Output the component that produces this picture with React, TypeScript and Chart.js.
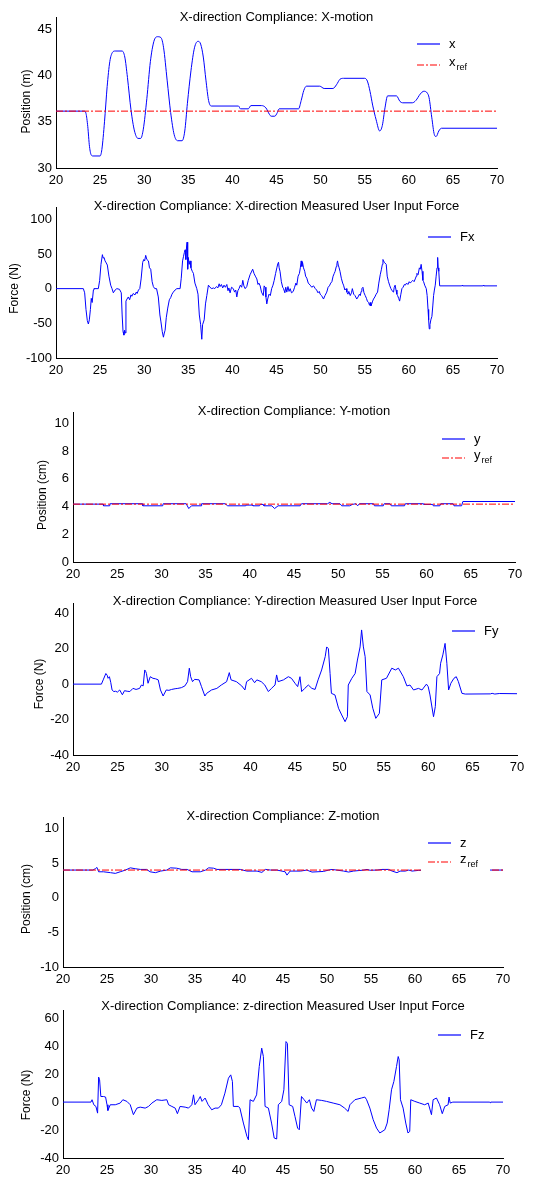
import React, { useEffect, useRef } from 'react';
import { Chart, registerables } from 'chart.js';

Chart.register(...registerables);

const FONT = '"Liberation Sans", Arial, Helvetica, sans-serif';
const BLUE = '#0000ff';
const RED = '#ff0000';
const REF_DASH = [7, 2, 2, 2];

const TIME_MIN = 20;
const TIME_MAX = 70;
const TIME_STEP = 5;

// ---- X-motion (m) ----
const X_MOTION: [number, number][] = [
  [20, 36.15], [23.2, 36.15], [23.4, 35.9], [23.6, 34.5], [23.8, 32.3], [24.0, 31.4], [24.2, 31.3], [25.0, 31.3],
  [25.2, 32.0], [25.5, 35.0], [25.8, 38.8], [26.1, 41.5], [26.4, 42.5], [26.7, 42.65], [27.5, 42.65], [27.8, 42.0],
  [28.1, 39.8], [28.5, 36.3], [28.9, 34.0], [29.3, 33.2], [29.6, 33.2], [29.9, 34.2], [30.3, 37.5], [30.7, 41.5],
  [31.1, 43.7], [31.5, 44.2], [31.9, 44.1], [32.2, 43.0], [32.6, 39.5], [33.0, 36.0], [33.4, 33.6], [33.8, 32.95],
  [34.3, 32.95], [34.6, 34.0], [34.9, 37.0], [35.3, 40.5], [35.7, 43.0], [36.1, 43.7], [36.4, 43.4], [36.7, 42.0],
  [37.0, 39.5], [37.3, 37.3], [37.6, 36.7], [40.7, 36.7], [40.9, 36.4], [41.8, 36.4], [42.1, 36.75], [43.3, 36.75],
  [43.8, 36.5], [44.2, 35.8], [44.4, 35.6], [44.8, 35.6], [45.1, 36.0], [45.3, 36.4], [47.5, 36.4], [47.8, 37.3],
  [48.1, 38.4], [48.4, 38.85], [49.9, 38.85], [50.4, 38.6], [51.4, 38.6], [51.8, 39.0], [52.2, 39.6], [52.6, 39.7],
  [55.0, 39.7], [55.3, 39.4], [55.6, 38.3], [55.9, 36.8], [56.3, 35.2], [56.7, 34.0], [57.0, 34.6], [57.3, 36.5],
  [57.6, 37.8], [58.6, 37.8], [59.0, 37.2], [59.3, 37.05], [60.4, 37.05], [60.8, 37.3], [61.3, 38.0], [61.7, 38.3],
  [62.1, 38.1], [62.3, 37.6], [62.6, 35.5], [62.9, 33.6], [63.1, 33.4], [63.4, 34.0], [63.7, 34.3], [70, 34.3],
];
const X_REF: [number, number][] = [[20, 36.15], [70, 36.15]];

// ---- Fx (N) ----
const FX: [number, number][] = [
  [20, 0], [23.1, 0], [23.25, -6], [23.4, -30], [23.55, -46], [23.67, -51], [23.78, -45], [23.9, -30], [24.0, -14],
  [24.1, -20], [24.24, -2], [24.3, 0], [24.8, 0], [24.95, 12], [25.1, 35], [25.26, 49], [25.35, 44], [25.45, 45],
  [25.56, 40], [25.7, 37], [25.82, 34], [26.0, 18], [26.2, 5], [26.35, 0], [26.5, -6], [26.7, -2], [26.9, 0],
  [27.2, -1], [27.4, -6], [27.5, -38], [27.6, -62], [27.7, -67], [27.78, -60], [27.86, -64], [27.93, -18],
  [28.05, -15], [28.2, -12], [28.35, -16], [28.5, -9], [28.6, -11], [28.75, -7], [28.96, -9], [29.1, -5],
  [29.2, -7], [29.35, -2], [29.5, 0], [29.65, 14], [29.83, 38], [29.95, 42], [30.05, 40], [30.17, 48], [30.3, 42],
  [30.48, 40], [30.6, 30], [30.74, 28], [30.9, 10], [31.04, 3], [31.2, 0], [31.4, 0], [31.6, -12], [31.78, -38],
  [31.9, -48], [32.05, -62], [32.18, -70], [32.28, -64], [32.37, -60], [32.5, -42], [32.67, -28], [32.85, -16],
  [33.0, -13], [33.15, -8], [33.3, -5], [33.5, -2], [33.7, 0], [34.07, 0], [34.2, 15], [34.35, 40], [34.45, 46],
  [34.55, 52], [34.64, 56], [34.72, 42], [34.8, 60], [34.86, 67], [34.93, 28], [35.0, 45], [35.1, 35], [35.2, 40],
  [35.3, 30], [35.45, 25], [35.58, 22], [35.75, 8], [35.96, 0], [36.1, -8], [36.25, -38], [36.4, -52], [36.53, -73],
  [36.62, -52], [36.8, -45], [36.95, -22], [37.1, -10], [37.28, 5], [37.45, 2], [37.66, 0], [37.85, 1], [38.0, 0],
  [38.2, 3], [38.35, 1], [38.5, 7], [38.6, 3], [38.75, 6], [38.9, 1], [39.05, 5], [39.2, 2], [39.37, 6], [39.5, -3],
  [39.6, 1], [39.74, -6], [39.9, 2], [40.1, 0], [40.25, -5], [40.38, -2], [40.5, -12], [40.62, -3], [40.75, 0],
  [40.9, 5], [41.05, 2], [41.18, 12], [41.3, 4], [41.45, 0], [41.63, 3], [41.8, 12], [42.0, 20], [42.15, 24],
  [42.3, 28], [42.45, 22], [42.6, 18], [42.77, 14], [42.9, 6], [43.0, 8], [43.15, 4], [43.3, -5], [43.5, -10],
  [43.6, 4], [43.7, 2], [43.8, -12], [43.9, -22], [44.0, -15], [44.15, -8], [44.3, -10], [44.45, 0], [44.6, 5],
  [44.74, 12], [44.9, 22], [45.04, 30], [45.15, 36], [45.23, 38], [45.3, 30], [45.4, 25], [45.55, 10], [45.7, 2],
  [45.8, 0], [45.95, -6], [46.05, 2], [46.17, -5], [46.3, 3], [46.42, -4], [46.55, 0], [46.7, -6], [46.9, -4],
  [47.05, 2], [47.2, 8], [47.3, 5], [47.45, 18], [47.6, 22], [47.7, 30], [47.8, 40], [47.88, 32], [47.95, 38],
  [48.06, 30], [48.2, 25], [48.3, 18], [48.44, 15], [48.6, 8], [48.82, 5], [49.0, 2], [49.2, 4], [49.4, 0],
  [49.55, -2], [49.7, -6], [49.85, -4], [49.95, -8], [50.1, -10], [50.2, -12], [50.33, -15], [50.5, -10],
  [50.7, -5], [50.85, 2], [51.0, 4], [51.15, 8], [51.28, 10], [51.42, 18], [51.55, 22], [51.65, 25], [51.78, 32],
  [51.85, 36], [51.92, 40], [52.0, 34], [52.1, 30], [52.2, 25], [52.35, 15], [52.5, 8], [52.6, 5], [52.75, -2],
  [52.9, 0], [52.98, -5], [53.1, -8], [53.2, -4], [53.36, -10], [53.5, -6], [53.6, 0], [53.75, -8], [53.9, -10],
  [54.1, -15], [54.25, -12], [54.4, -8], [54.5, -10], [54.6, -4], [54.68, 0], [54.8, 2], [54.92, -6], [55.06, -10],
  [55.2, -14], [55.3, -18], [55.44, -20], [55.55, -24], [55.62, -20], [55.7, -25], [55.8, -22], [55.9, -18],
  [56.0, -15], [56.15, -12], [56.3, -8], [56.46, -5], [56.6, 8], [56.76, 20], [56.9, 28], [57.0, 35], [57.07, 42],
  [57.14, 40], [57.22, 38], [57.3, 38], [57.44, 35], [57.55, 18], [57.7, 10], [57.85, 4], [57.97, 0], [58.1, -3],
  [58.27, -5], [58.35, 2], [58.45, 5], [58.55, -2], [58.65, -8], [58.73, -10], [58.85, -14], [58.96, -18],
  [59.1, -8], [59.22, 0], [59.35, 2], [59.5, 6], [59.6, 5], [59.75, 8], [59.9, 6], [60.05, 10], [60.17, 8],
  [60.3, 10], [60.45, 12], [60.6, 10], [60.73, 14], [60.85, 18], [60.92, 22], [61.05, 20], [61.2, 30], [61.3, 28],
  [61.4, 35], [61.5, 25], [61.6, 12], [61.68, 10], [61.8, 5], [61.98, 0], [62.08, -10], [62.18, -30], [62.25, -45],
  [62.32, -58], [62.4, -52], [62.5, -45], [62.62, -40], [62.72, -25], [62.81, -10], [62.9, -2], [63.0, 5],
  [63.1, 18], [63.2, 30], [63.27, 45], [63.33, 30], [63.4, 25], [63.5, 4], [66.0, 4], [66.05, 5], [66.1, 4],
  [68.4, 4], [68.45, 5], [68.5, 4], [70, 4],
];

// ---- Y-motion (cm) ----
const Y_MOTION: [number, number][] = [
  [20, 4.17], [23.4, 4.17], [23.45, 4.05], [24.15, 4.05], [24.2, 4.2], [27.85, 4.2], [27.9, 4.05], [30.15, 4.05],
  [30.2, 4.2], [32.8, 4.2], [33.1, 3.85], [33.4, 4.05], [34.5, 4.05], [34.55, 4.2], [37.2, 4.2], [37.5, 4.05],
  [39.5, 4.05], [39.55, 4.1], [40.3, 4.1], [40.35, 4.05], [41.1, 4.05], [41.2, 4.15], [41.5, 4.15], [41.6, 4.05],
  [42.5, 4.05], [42.8, 3.85], [43.2, 4.05], [45.7, 4.05], [45.85, 4.2], [48.8, 4.2], [49.05, 4.3], [49.3, 4.2],
  [50.2, 4.2], [50.4, 4.05], [51.3, 4.05], [51.6, 4.15], [52.0, 4.2], [52.2, 4.05], [52.4, 4.2], [54.0, 4.2],
  [54.1, 4.05], [55.1, 4.05], [55.2, 4.2], [55.85, 4.2], [56.0, 4.05], [57.5, 4.05], [57.6, 4.2], [59.6, 4.2],
  [59.7, 4.15], [60.7, 4.15], [60.75, 4.05], [61.5, 4.05], [61.6, 4.2], [63.0, 4.2], [63.1, 4.05], [63.96, 4.05],
  [64.1, 4.36], [70, 4.36],
];
const Y_REF: [number, number][] = [[20, 4.17], [70, 4.17]];

// ---- Fy (N) ----
const FY: [number, number][] = [
  [20, 0], [23.2, 0], [23.4, 2.4], [23.7, 6], [23.85, 5], [23.95, 3.3], [24.1, 4.2], [24.25, 1], [24.4, -3.3],
  [24.6, -4.2], [24.8, -4], [25.0, -4.5], [25.26, -3.3], [25.56, -6], [25.8, -3.7], [26.1, -4], [26.4, -4.2],
  [26.75, -2.4], [27.1, -3], [27.5, -2.4], [27.7, -0.5], [27.9, -1], [28.08, 8], [28.2, 7], [28.27, 6],
  [28.45, 0.5], [28.7, 4.2], [29.0, 3.3], [29.3, 3], [29.6, 2.4], [29.85, -3.3], [30.15, -6.7], [30.5, -3.3],
  [30.8, -3.5], [31.1, -3], [31.5, -2.6], [31.8, -2.4], [32.2, -2], [32.6, -1], [32.9, 1.4], [33.1, 9],
  [33.25, 4.2], [33.46, 1.4], [33.7, 2.7], [34.2, 2.4], [34.47, -1.4], [34.85, -6.7], [35.05, -5.2], [35.6, -3.3],
  [36.2, -2.4], [36.7, -0.5], [37.3, 1.4], [37.6, 6.5], [37.8, 2.4], [38.4, 1.4], [39.0, -1], [39.36, -3.3],
  [39.55, 1.4], [40.1, 3.3], [40.45, 0.8], [40.7, 2.4], [41.2, 1.4], [41.6, -0.5], [42.0, -4.2], [42.35, -2.4],
  [42.75, -0.5], [42.93, 5.2], [43.1, 1.4], [43.7, 2.4], [44.25, 4.2], [44.6, 3.3], [45.0, 0.5], [45.3, -1.4],
  [45.56, 4.2], [45.75, -4.2], [46.1, -2.4], [46.5, -0.5], [46.9, -2.4], [47.26, -3], [47.6, 2.4], [48.0, 8],
  [48.4, 15.5], [48.57, 21], [48.76, 20], [48.95, 6], [49.1, -5.2], [49.5, -6.1], [49.9, -13.6], [50.26, -17.4],
  [50.64, -21.2], [50.9, -18.4], [51.0, -0.5], [51.4, 3.3], [51.77, 6], [52.03, 13.6], [52.33, 21], [52.5, 30.6],
  [52.7, 21], [52.9, 15.5], [53.1, -4.2], [53.46, -6.1], [53.76, -13.6], [54.1, -19.3], [54.5, -16.5], [54.77, 2.4],
  [55.3, 3.3], [55.9, 9], [56.3, 8], [56.65, 9], [57.2, 4.2], [57.6, -1], [57.95, -0.5], [58.35, -3.3],
  [58.9, -2.4], [59.3, -3.3], [59.8, 0], [60.0, -1.4], [60.2, -6.1], [60.6, -18.4], [60.8, -12.7], [60.98, 4.2],
  [61.28, 6], [61.4, 11.8], [61.65, 16.5], [61.9, 23], [62.1, 11.8], [62.3, -3.3], [62.55, 0.5], [62.9, 3.3],
  [63.16, 4.2], [63.4, 1.4], [63.8, -5.2], [64.17, -5.6], [67.0, -5.5], [67.2, -5.2], [67.5, -5.6], [68.0, -5.3],
  [70, -5.4],
];

// ---- Z-motion (cm) ----
const Z_MOTION: [number, number][] = [
  [20, 3.98], [23.4, 3.98], [23.7, 4.2], [23.86, 4.36], [24.05, 3.73], [24.6, 3.73], [25.4, 3.6], [25.95, 3.5],
  [26.5, 3.73], [27.1, 3.98], [27.65, 4.3], [28.2, 4.17], [28.8, 4.07], [29.5, 4.07], [29.9, 3.73], [30.5, 3.6],
  [31.1, 3.83], [31.8, 3.98], [32.2, 4.3], [32.9, 4.25], [33.5, 4.07], [34.1, 4.07], [34.66, 3.73], [35.6, 3.73],
  [36.2, 3.98], [36.55, 4.3], [37.1, 4.25], [37.5, 4.07], [40.15, 4.07], [40.9, 3.83], [42.05, 3.83], [42.6, 3.64],
  [43.0, 4.07], [43.6, 3.98], [44.3, 3.98], [45.25, 3.73], [45.45, 3.25], [45.8, 3.83], [47.0, 3.83], [47.7, 3.98],
  [48.3, 3.69], [49.6, 3.78], [50.2, 3.98], [50.56, 4.07], [51.1, 3.98], [51.9, 3.83], [52.46, 3.69], [53.0, 3.83],
  [54.2, 3.98], [54.55, 4.07], [54.9, 3.95], [55.7, 3.98], [56.25, 4.07], [57.0, 4.07], [57.4, 3.83], [57.95, 3.6],
  [58.3, 3.83], [58.9, 3.83], [59.3, 3.98], [59.66, 3.83], [60.4, 3.93], [61.0, 3.98], [70, 3.98],
];
const Z_REF: [number, number][] = [[20, 3.98], [70, 3.98]];

// ---- Fz (N) ----
const FZ: [number, number][] = [
  [20, 0], [23.18, 0], [23.3, 1.7], [23.5, -1.9], [23.74, -3.1], [23.93, -7.9], [24.05, 17.9], [24.16, 16],
  [24.3, 4], [24.6, 4], [24.84, 3.6], [25.0, -1.9], [25.1, -6], [25.37, -1.9], [25.94, -1.9], [26.5, -0.7],
  [26.8, 1.7], [27.26, 0.5], [27.64, -1.9], [28.0, -9], [28.4, -4.3], [28.77, -3.6], [29.34, -4.3], [29.72, -3.1],
  [30.1, -0.7], [30.66, 1.7], [31.23, 1.2], [31.8, 1.7], [32.0, -1.9], [32.37, -3.1], [32.75, -4.3], [33.0, -8.3],
  [33.3, -3.1], [33.88, -3.6], [34.26, -4.3], [34.64, -1.9], [34.83, 5.2], [35.0, -1.9], [35.4, 1.7], [35.6, 4],
  [35.8, 0.5], [36.15, 2.9], [36.5, -1.9], [36.9, -5.5], [37.28, -4.3], [37.66, -4.3], [38.0, -1.9], [38.4, 6.4],
  [38.8, 17.1], [39.06, 19.5], [39.25, 14.8], [39.36, -3.1], [39.93, -3.1], [40.1, -4.3], [40.5, -15],
  [40.9, -24.5], [41.07, -27], [41.26, 1.7], [41.63, 0.5], [42.0, 5.2], [42.3, 25.5], [42.58, 38.6], [42.77, 32.6],
  [42.96, -3.1], [43.34, -4.3], [43.7, -15], [44.0, -25.7], [44.28, -26.4], [44.47, -1.9], [44.85, 0.5],
  [45.1, 8.8], [45.34, 43.3], [45.5, 42], [45.7, -1.9], [46.1, -3.1], [46.36, -10.2], [46.66, -18.6],
  [46.85, -19.8], [47.1, 4], [47.4, 1.7], [47.7, -0.7], [48.0, 1.7], [48.25, -4.3], [48.5, -6.7], [48.8, 1.7],
  [49.4, 1.2], [49.95, 0.5], [50.7, -0.7], [51.47, -1.9], [52.0, -4.3], [52.4, -6.7], [52.6, -1.9], [53.17, 1.7],
  [53.9, 2.9], [54.3, 3.6], [54.5, 1.7], [54.87, -4.3], [55.25, -12.6], [55.63, -18.6], [56.0, -22.1],
  [56.57, -19.8], [56.84, -15], [57.06, -5.5], [57.33, 8.8], [57.6, 14.8], [57.9, 25.5], [58.09, 32.6],
  [58.2, 30.2], [58.35, 1.7], [58.65, -4.3], [58.95, -15], [59.2, -22.1], [59.4, -21], [59.52, 1.7], [59.98, 0.5],
  [60.54, -0.7], [61.1, -1.9], [61.5, -0.7], [61.87, -9], [62.06, 1.7], [62.44, 2.9], [62.8, -1.9], [63.1, -8.3],
  [63.38, -3.1], [63.76, -1.9], [63.87, 3.6], [64.0, -0.7], [64.3, 0], [68.5, 0], [68.55, -0.5], [68.6, 0],
  [70, 0],
];

type Series = { label: string; data: [number, number][]; color: string; dash?: number[]; smooth?: boolean };
type PanelCfg = {
  top: number; height: number; left: number; padRight: number;
  yMin: number; yMax: number; yStep: number;
  title: string; titlePadTop: number; yTitle: string; yTitleX: number; yTitleDy: number;
  series: Series[];
  legend: { dx: number; dy: number; spacing: number };
};

const PANELS: PanelCfg[] = [
  {
    top: 2, height: 191, left: 56, padRight: 46, yMin: 30, yMax: 46.33, yStep: 5,
    title: 'X-direction Compliance: X-motion', titlePadTop: 9, yTitle: 'Position (m)', yTitleX: 27, yTitleDy: 9,
    series: [
      { label: 'x', data: X_MOTION, color: BLUE, smooth: true },
      { label: 'x_ref', data: X_REF, color: RED, dash: REF_DASH },
    ],
    legend: { dx: -80, dy: 27, spacing: 21 },
  },
  {
    top: 192, height: 191, left: 56, padRight: 46, yMin: -100, yMax: 117.7, yStep: 50,
    title: 'X-direction Compliance: X-direction Measured User Input Force', titlePadTop: 8, yTitle: 'Force (N)', yTitleX: 15, yTitleDy: 6,
    series: [{ label: 'Fx', data: FX, color: BLUE }],
    legend: { dx: -69, dy: 30, spacing: 20 },
  },
  {
    top: 397, height: 190, left: 73, padRight: 28, yMin: 0, yMax: 10.81, yStep: 2,
    title: 'X-direction Compliance: Y-motion', titlePadTop: 8, yTitle: 'Position (cm)', yTitleX: 43, yTitleDy: 8,
    series: [
      { label: 'y', data: Y_MOTION, color: BLUE },
      { label: 'y_ref', data: Y_REF, color: RED, dash: REF_DASH },
    ],
    legend: { dx: -73, dy: 27, spacing: 19 },
  },
  {
    top: 588, height: 192, left: 73, padRight: 26, yMin: -40, yMax: 45.8, yStep: 20,
    title: 'X-direction Compliance: Y-direction Measured User Input Force', titlePadTop: 7, yTitle: 'Force (N)', yTitleX: 40, yTitleDy: 5,
    series: [{ label: 'Fy', data: FY, color: BLUE }],
    legend: { dx: -65, dy: 28, spacing: 20 },
  },
  {
    top: 802, height: 190, left: 63, padRight: 40, yMin: -10, yMax: 11.63, yStep: 5,
    title: 'X-direction Compliance: Z-motion', titlePadTop: 8, yTitle: 'Position (cm)', yTitleX: 27, yTitleDy: 7,
    series: [
      { label: 'z', data: Z_MOTION, color: BLUE },
      { label: 'z_ref', data: Z_REF, color: RED, dash: REF_DASH },
    ],
    legend: { dx: -75, dy: 26, spacing: 19 },
  },
  {
    top: 995, height: 188, left: 63, padRight: 40, yMin: -40, yMax: 65.9, yStep: 20,
    title: 'X-direction Compliance: z-direction Measured User Input Force', titlePadTop: 5, yTitle: 'Force (N)', yTitleX: 27, yTitleDy: 11,
    series: [{ label: 'Fz', data: FZ, color: BLUE }],
    legend: { dx: -65, dy: 25, spacing: 20 },
  },
];

function makePlugins(cfg: PanelCfg) {
  const yLabel = {
    id: 'yLabelText',
    afterDraw(chart: any) {
      const { ctx, chartArea } = chart;
      ctx.save();
      ctx.translate(cfg.yTitleX, (chartArea.top + chartArea.bottom) / 2 + cfg.yTitleDy);
      ctx.rotate(-Math.PI / 2);
      ctx.font = `12px ${FONT}`;
      ctx.fillStyle = '#000';
      ctx.textAlign = 'center';
      ctx.textBaseline = 'middle';
      ctx.fillText(cfg.yTitle, 0, 0);
      ctx.restore();
    },
  };
  const boxLegend = {
    id: 'boxLegend',
    afterDatasetsDraw(chart: any) {
      const { ctx, chartArea } = chart;
      const lg = cfg.legend;
      const lineLen = 23;
      const textGap = 9;
      const mainFont = `13px ${FONT}`;
      const subFont = `9px ${FONT}`;
      const items = cfg.series.map((s) => {
        const [main, sub] = s.label.split('_');
        return { main, sub: sub || '', color: s.color, dash: s.dash || [] };
      });
      const x0 = chartArea.right + lg.dx;
      const y0 = chartArea.top + lg.dy;
      const textX = x0 + lineLen + textGap;
      ctx.save();
      let maxW = 0;
      items.forEach((it) => {
        ctx.font = mainFont;
        let w = ctx.measureText(it.main).width;
        if (it.sub) {
          ctx.font = subFont;
          w += ctx.measureText(it.sub).width + 1;
        }
        maxW = Math.max(maxW, w);
      });
      const yLast = y0 + (items.length - 1) * lg.spacing;
      ctx.fillStyle = '#ffffff';
      ctx.fillRect(x0 - 7, y0 - 12, textX + maxW + 12 - (x0 - 7), yLast + 12 - (y0 - 12));
      items.forEach((it, i) => {
        const y = y0 + i * lg.spacing;
        ctx.strokeStyle = it.color;
        ctx.lineWidth = 1.2;
        ctx.setLineDash(it.dash);
        ctx.beginPath();
        ctx.moveTo(x0, y);
        ctx.lineTo(x0 + lineLen, y);
        ctx.stroke();
        ctx.setLineDash([]);
        ctx.fillStyle = '#000';
        ctx.textAlign = 'left';
        ctx.textBaseline = 'middle';
        ctx.font = mainFont;
        if (it.sub) {
          ctx.fillText(it.main, textX, y - 3);
          const w = ctx.measureText(it.main).width;
          ctx.font = subFont;
          ctx.fillText(it.sub, textX + w + 1, y + 3);
        } else {
          ctx.fillText(it.main, textX, y);
        }
      });
      ctx.restore();
    },
  };
  return [yLabel, boxLegend];
}

function Panel({ cfg }: { cfg: PanelCfg }) {
  const ref = useRef<HTMLCanvasElement | null>(null);
  useEffect(() => {
    if (!ref.current) return;
    const datasets = cfg.series.map((s) => ({
      label: s.label,
      data: s.data.map(([x, y]) => ({ x, y })),
      borderColor: s.color,
      backgroundColor: s.color,
      borderWidth: 1,
      borderDash: s.dash || [],
      pointRadius: 0,
      fill: false,
      tension: 0,
      cubicInterpolationMode: s.smooth ? 'monotone' : 'default',
      order: s.dash ? -1 : 0,
    }));
    const chart = new Chart(ref.current, {
      type: 'line',
      data: { datasets } as any,
      plugins: makePlugins(cfg) as any,
      options: {
        animation: false,
        responsive: false,
        devicePixelRatio: 1,
        layout: { padding: { left: 0, right: cfg.padRight, top: 0, bottom: 0 } },
        plugins: {
          legend: { display: false },
          tooltip: { enabled: false },
          title: {
            display: true,
            text: cfg.title,
            fullSize: false,
            color: '#000',
            font: { family: FONT, size: 13, weight: 'normal', lineHeight: 1 },
            padding: { top: cfg.titlePadTop, bottom: 2 - cfg.titlePadTop },
          },
        },
        scales: {
          x: {
            type: 'linear',
            min: TIME_MIN,
            max: TIME_MAX,
            bounds: 'data',
            grid: { display: false, drawTicks: false },
            border: { display: true, color: '#000', width: 1 },
            ticks: {
              stepSize: TIME_STEP,
              padding: 5,
              color: '#000',
              font: { family: FONT, size: 13 },
              maxRotation: 0,
              autoSkip: false,
              includeBounds: false,
            },
            afterFit: (s: any) => { s.height = 25; },
          },
          y: {
            type: 'linear',
            min: cfg.yMin,
            max: cfg.yMax,
            bounds: 'data',
            grid: { display: false, drawTicks: false },
            border: { display: true, color: '#000', width: 1 },
            ticks: {
              stepSize: cfg.yStep,
              padding: 4,
              color: '#000',
              font: { family: FONT, size: 13 },
              autoSkip: false,
              includeBounds: false,
            },
            afterFit: (s: any) => { s.width = cfg.left; },
          },
        },
      } as any,
    });
    return () => chart.destroy();
  }, [cfg]);
  return (
    <canvas
      ref={ref}
      width={543}
      height={cfg.height}
      style={{ position: 'absolute', left: 0, top: cfg.top, width: 543, height: cfg.height, display: 'block' }}
    />
  );
}

export default function App() {
  return (
    <div style={{ position: 'absolute', left: 0, top: 0, width: 543, height: 1178, background: '#fff', overflow: 'hidden' }}>
      {PANELS.map((p, i) => (
        <Panel key={i} cfg={p} />
      ))}
    </div>
  );
}
